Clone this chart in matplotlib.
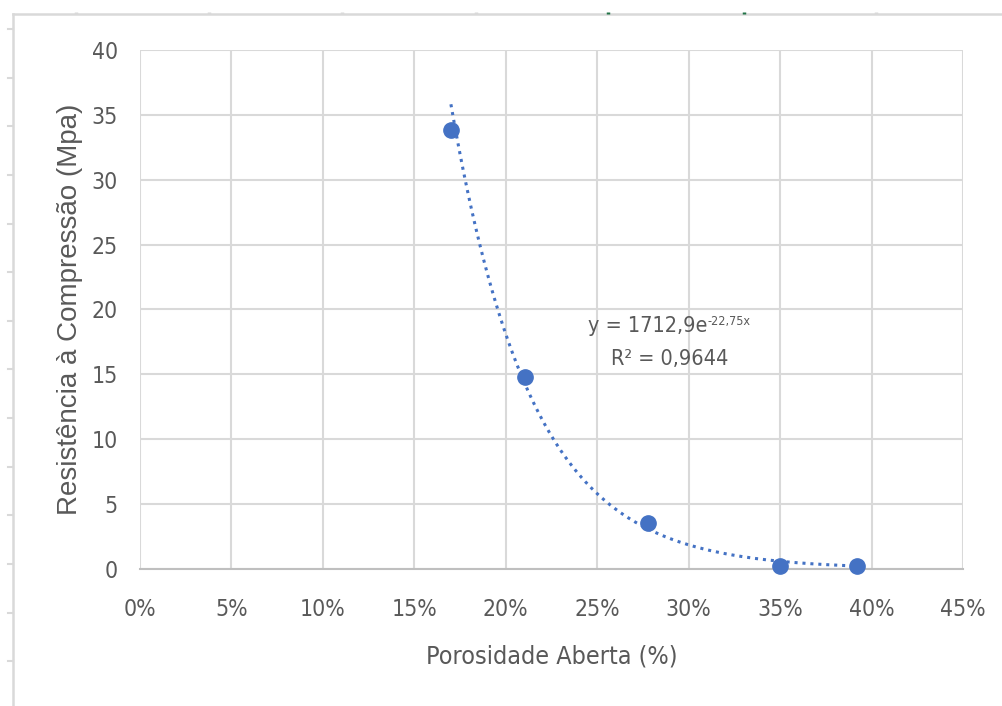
import matplotlib
matplotlib.use("Agg")
import numpy as np
import matplotlib.pyplot as plt
from matplotlib.lines import Line2D
from matplotlib.ticker import PercentFormatter

# data
porosity = [0.170, 0.2105, 0.278, 0.350, 0.392]
strength = [33.8, 14.8, 3.55, 0.25, 0.25]

# excel exponential trendline y = a*e^(b*x)
trend_a = 1712.9
trend_b = -22.75
eq_text = "y = 1712,9e"
eq_exp = "-22,75x"
r2_text = "R² = 0,9644"

x_ticks = [0, 0.05, 0.10, 0.15, 0.20, 0.25, 0.30, 0.35, 0.40, 0.45]
y_ticks = [0, 5, 10, 15, 20, 25, 30, 35, 40]

blue = '#4472c4'
grey_txt = '#595959'
grid_col = '#d9d9d9'

W, H = 1002, 706
fig = plt.figure(figsize=(W / 100, H / 100), dpi=100)
ax = fig.add_axes([140 / W, 1 - 569 / H, (963 - 140) / W, (569 - 50) / H])

# trendline
xs = np.linspace(min(porosity), max(porosity), 200)
ax.plot(xs, trend_a * np.exp(trend_b * xs), color=blue, lw=2.2,
        linestyle=(0, (1, 1.6)), zorder=2)
ax.plot(porosity, strength, 'o', color=blue, ms=11, zorder=3, clip_on=False)

ax.set_xlim(0, 0.45)
ax.set_ylim(0, 40)
ax.set_xticks(x_ticks)
ax.set_yticks(y_ticks)
ax.xaxis.set_major_formatter(PercentFormatter(1.0, decimals=0))
ax.grid(True, color=grid_col, lw=1.5)
ax.set_axisbelow(True)
for s in ['top', 'right', 'left']:
    ax.spines[s].set_visible(False)
ax.spines['bottom'].set_color('#bfbfbf')
ax.spines['bottom'].set_linewidth(1.5)
ax.tick_params(length=0, colors=grey_txt, labelsize=16.5)
ax.tick_params(axis='x', pad=21)
ax.tick_params(axis='y', pad=16)
for lab in ax.get_xticklabels() + ax.get_yticklabels():
    lab.set_family('DejaVu Sans')
    lab.set_stretch('condensed')

ax.set_xlabel("Porosidade Aberta (%)", family='DejaVu Sans', stretch='condensed',
              fontsize=18, color=grey_txt, labelpad=17)
ax.set_ylabel("Resistência à Compressão (Mpa)", family='Liberation Sans', fontsize=20,
              color=grey_txt, labelpad=6)

# trendline label
t1 = ax.text(0.245, 18.7, eq_text, family='DejaVu Sans', stretch='condensed',
             fontsize=15.5, color=grey_txt, ha='left', va='center')
ax.annotate(eq_exp, xy=(1, 1), xycoords=t1, xytext=(0, 1), textcoords='offset points',
            family='DejaVu Sans', stretch='condensed', fontsize=9, color=grey_txt,
            ha='left', va='top')
ax.text(0.2898, 16.2, r2_text, family='DejaVu Sans', stretch='condensed',
        fontsize=15.5, color=grey_txt, ha='center', va='center')

# spreadsheet frame around the chart
fx = lambda px: px / W
fy = lambda py: 1 - py / H
fig.add_artist(Line2D([fx(13), fx(13)], [fy(14), fy(706)], color=grid_col, lw=1.8))
fig.add_artist(Line2D([fx(13), fx(1002)], [fy(14), fy(14)], color=grid_col, lw=1.8))
for yy in [29, 78, 126, 175, 224, 272, 321, 369, 418, 467, 515, 564, 613, 661]:
    fig.add_artist(Line2D([fx(8), fx(13)], [fy(yy), fy(yy)], color=grid_col, lw=1.5))
for xx, c in [(76, grid_col), (209, grid_col), (342, grid_col), (476, grid_col),
              (608, '#217346'), (744, '#217346'), (876, grid_col)]:
    fig.add_artist(Line2D([fx(xx), fx(xx)], [fy(11.5), fy(13.5)], color=c, lw=2.5,
                          solid_capstyle='butt'))

fig.savefig("out.png", dpi=100)
